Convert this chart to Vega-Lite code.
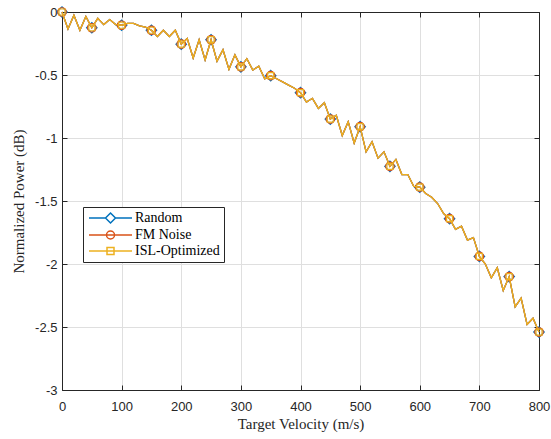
{
  "$schema": "https://vega.github.io/schema/vega-lite/v6.json",
  "width": 477,
  "height": 378,
  "autosize": {"type": "none"},
  "padding": {"left": 62, "top": 12, "right": 12, "bottom": 49},
  "background": "white",
  "config": {
    "view": {"stroke": null},
    "axis": {
      "domainColor": "#262626",
      "domainWidth": 1,
      "tickColor": "#262626",
      "tickSize": -5,
      "labelFont": "Liberation Sans",
      "labelFontSize": 13,
      "labelColor": "#262626",
      "titleFont": "Liberation Serif",
      "titleFontSize": 15,
      "titleFontWeight": "normal",
      "titleColor": "#262626",
      "gridColor": "#dfdfdf",
      "gridWidth": 1
    }
  },
  "data": {
    "values": [
      {"v": 0, "r": 0, "f": 0, "i": 0},
      {"v": 10, "r": -0.135, "f": -0.135, "i": -0.135},
      {"v": 20, "r": -0.025, "f": -0.025, "i": -0.025},
      {"v": 30, "r": -0.145, "f": -0.145, "i": -0.145},
      {"v": 40, "r": -0.035, "f": -0.035, "i": -0.035},
      {"v": 50, "r": -0.125, "f": -0.125, "i": -0.125},
      {"v": 60, "r": -0.05, "f": -0.05, "i": -0.05},
      {"v": 70, "r": -0.1, "f": -0.1, "i": -0.1},
      {"v": 80, "r": -0.06, "f": -0.06, "i": -0.06},
      {"v": 90, "r": -0.1, "f": -0.1, "i": -0.1},
      {"v": 100, "r": -0.105, "f": -0.105, "i": -0.105},
      {"v": 110, "r": -0.09, "f": -0.09, "i": -0.09},
      {"v": 120, "r": -0.09, "f": -0.09, "i": -0.09},
      {"v": 130, "r": -0.11, "f": -0.11, "i": -0.11},
      {"v": 140, "r": -0.12, "f": -0.12, "i": -0.12},
      {"v": 150, "r": -0.145, "f": -0.145, "i": -0.145},
      {"v": 160, "r": -0.195, "f": -0.195, "i": -0.195},
      {"v": 170, "r": -0.145, "f": -0.145, "i": -0.145},
      {"v": 180, "r": -0.195, "f": -0.195, "i": -0.195},
      {"v": 190, "r": -0.145, "f": -0.145, "i": -0.145},
      {"v": 200, "r": -0.255, "f": -0.255, "i": -0.255},
      {"v": 210, "r": -0.21, "f": -0.21, "i": -0.21},
      {"v": 220, "r": -0.365, "f": -0.365, "i": -0.365},
      {"v": 230, "r": -0.22, "f": -0.22, "i": -0.22},
      {"v": 240, "r": -0.38, "f": -0.38, "i": -0.38},
      {"v": 250, "r": -0.22, "f": -0.22, "i": -0.22},
      {"v": 260, "r": -0.39, "f": -0.39, "i": -0.39},
      {"v": 270, "r": -0.3, "f": -0.3, "i": -0.3},
      {"v": 280, "r": -0.455, "f": -0.455, "i": -0.455},
      {"v": 290, "r": -0.34, "f": -0.34, "i": -0.34},
      {"v": 300, "r": -0.435, "f": -0.435, "i": -0.435},
      {"v": 310, "r": -0.37, "f": -0.37, "i": -0.37},
      {"v": 320, "r": -0.46, "f": -0.46, "i": -0.46},
      {"v": 330, "r": -0.43, "f": -0.43, "i": -0.43},
      {"v": 340, "r": -0.53, "f": -0.53, "i": -0.53},
      {"v": 350, "r": -0.505, "f": -0.505, "i": -0.505},
      {"v": 360, "r": -0.53, "f": -0.53, "i": -0.53},
      {"v": 370, "r": -0.555, "f": -0.555, "i": -0.555},
      {"v": 380, "r": -0.58, "f": -0.58, "i": -0.58},
      {"v": 390, "r": -0.605, "f": -0.605, "i": -0.605},
      {"v": 400, "r": -0.64, "f": -0.64, "i": -0.64},
      {"v": 410, "r": -0.715, "f": -0.715, "i": -0.715},
      {"v": 420, "r": -0.685, "f": -0.685, "i": -0.685},
      {"v": 430, "r": -0.765, "f": -0.765, "i": -0.765},
      {"v": 440, "r": -0.72, "f": -0.72, "i": -0.72},
      {"v": 450, "r": -0.85, "f": -0.85, "i": -0.85},
      {"v": 460, "r": -0.82, "f": -0.82, "i": -0.82},
      {"v": 470, "r": -0.98, "f": -0.98, "i": -0.98},
      {"v": 480, "r": -0.87, "f": -0.87, "i": -0.87},
      {"v": 490, "r": -1.04, "f": -1.04, "i": -1.04},
      {"v": 500, "r": -0.91, "f": -0.91, "i": -0.91},
      {"v": 510, "r": -1.11, "f": -1.11, "i": -1.11},
      {"v": 520, "r": -1.03, "f": -1.03, "i": -1.03},
      {"v": 530, "r": -1.16, "f": -1.16, "i": -1.16},
      {"v": 540, "r": -1.11, "f": -1.11, "i": -1.11},
      {"v": 550, "r": -1.225, "f": -1.225, "i": -1.225},
      {"v": 560, "r": -1.17, "f": -1.17, "i": -1.17},
      {"v": 570, "r": -1.29, "f": -1.29, "i": -1.29},
      {"v": 580, "r": -1.29, "f": -1.29, "i": -1.29},
      {"v": 590, "r": -1.385, "f": -1.385, "i": -1.385},
      {"v": 600, "r": -1.39, "f": -1.39, "i": -1.39},
      {"v": 610, "r": -1.44, "f": -1.44, "i": -1.44},
      {"v": 620, "r": -1.47, "f": -1.47, "i": -1.47},
      {"v": 630, "r": -1.52, "f": -1.52, "i": -1.52},
      {"v": 640, "r": -1.6, "f": -1.6, "i": -1.6},
      {"v": 650, "r": -1.64, "f": -1.64, "i": -1.64},
      {"v": 660, "r": -1.725, "f": -1.725, "i": -1.725},
      {"v": 670, "r": -1.7, "f": -1.7, "i": -1.7},
      {"v": 680, "r": -1.81, "f": -1.81, "i": -1.81},
      {"v": 690, "r": -1.79, "f": -1.79, "i": -1.79},
      {"v": 700, "r": -1.94, "f": -1.94, "i": -1.94},
      {"v": 710, "r": -2.0, "f": -2.0, "i": -2.0},
      {"v": 720, "r": -2.11, "f": -2.11, "i": -2.11},
      {"v": 730, "r": -2.03, "f": -2.03, "i": -2.03},
      {"v": 740, "r": -2.21, "f": -2.21, "i": -2.21},
      {"v": 750, "r": -2.1, "f": -2.1, "i": -2.1},
      {"v": 760, "r": -2.34, "f": -2.34, "i": -2.34},
      {"v": 770, "r": -2.27, "f": -2.27, "i": -2.27},
      {"v": 780, "r": -2.48, "f": -2.48, "i": -2.48},
      {"v": 790, "r": -2.43, "f": -2.43, "i": -2.43},
      {"v": 800, "r": -2.54, "f": -2.54, "i": -2.54}
    ]
  },
  "layer": [
    {
      "mark": {"type": "line", "color": "#0072BD", "strokeWidth": 1.3},
      "encoding": {
        "x": {"field": "v", "type": "quantitative", "scale": {"domain": [0, 800], "nice": false, "zero": false},
          "axis": {"orient": "bottom", "values": [0, 100, 200, 300, 400, 500, 600, 700, 800], "grid": true, "labelPadding": 15, "title": "Target Velocity (m/s)", "titlePadding": 3, "labelFlush": false}},
        "y": {"field": "r", "type": "quantitative", "scale": {"domain": [-3, 0], "nice": false, "zero": false},
          "axis": {"orient": "left", "values": [0, -0.5, -1, -1.5, -2, -2.5, -3], "grid": true, "labelPadding": 10, "labelExpr": "toString(datum.value)", "title": "Normalized Power (dB)", "titlePadding": 8, "labelFlush": false}}
      }
    },
    {
      "transform": [{"filter": "datum.v % 50 == 0"}],
      "mark": {"type": "point", "shape": "diamond", "filled": false, "opacity": 1, "size": 110, "strokeWidth": 1.2, "color": "#0072BD"},
      "encoding": {
        "x": {"field": "v", "type": "quantitative", "scale": {"domain": [0, 800], "nice": false, "zero": false}, "axis": null},
        "y": {"field": "r", "type": "quantitative", "scale": {"domain": [-3, 0], "nice": false, "zero": false}, "axis": null}
      }
    },
    {
      "mark": {"type": "line", "color": "#D95319", "strokeWidth": 1.3},
      "encoding": {
        "x": {"field": "v", "type": "quantitative", "scale": {"domain": [0, 800], "nice": false, "zero": false}, "axis": null},
        "y": {"field": "f", "type": "quantitative", "scale": {"domain": [-3, 0], "nice": false, "zero": false}, "axis": null}
      }
    },
    {
      "transform": [{"filter": "datum.v % 50 == 0"}],
      "mark": {"type": "point", "shape": "circle", "filled": false, "opacity": 1, "size": 72, "strokeWidth": 1.2, "color": "#D95319"},
      "encoding": {
        "x": {"field": "v", "type": "quantitative", "scale": {"domain": [0, 800], "nice": false, "zero": false}, "axis": null},
        "y": {"field": "f", "type": "quantitative", "scale": {"domain": [-3, 0], "nice": false, "zero": false}, "axis": null}
      }
    },
    {
      "mark": {"type": "line", "color": "#EDB120", "strokeWidth": 1.3},
      "encoding": {
        "x": {"field": "v", "type": "quantitative", "scale": {"domain": [0, 800], "nice": false, "zero": false}, "axis": null},
        "y": {"field": "i", "type": "quantitative", "scale": {"domain": [-3, 0], "nice": false, "zero": false}, "axis": null}
      }
    },
    {
      "transform": [{"filter": "datum.v % 50 == 0"}],
      "mark": {"type": "point", "shape": "square", "filled": false, "opacity": 1, "size": 36, "strokeWidth": 1.2, "color": "#EDB120"},
      "encoding": {
        "x": {"field": "v", "type": "quantitative", "scale": {"domain": [0, 800], "nice": false, "zero": false}, "axis": null},
        "y": {"field": "i", "type": "quantitative", "scale": {"domain": [-3, 0], "nice": false, "zero": false}, "axis": null}
      }
    },
    {
      "data": {"values": [{"series": "Random"}, {"series": "FM Noise"}, {"series": "ISL-Optimized"}]},
      "transform": [{"filter": "false"}],
      "mark": {"type": "point", "filled": false, "opacity": 1, "strokeWidth": 1.5},
      "encoding": {
        "x": {"field": "v", "type": "quantitative", "scale": {"domain": [0, 800], "nice": false, "zero": false},
          "axis": {"orient": "top", "values": [0, 100, 200, 300, 400, 500, 600, 700, 800], "labels": false, "grid": false, "title": null}},
        "y": {"field": "p", "type": "quantitative", "scale": {"domain": [-3, 0], "nice": false, "zero": false},
          "axis": {"orient": "right", "values": [0, -0.5, -1, -1.5, -2, -2.5, -3], "labels": false, "grid": false, "title": null}},
        "color": {"field": "series", "type": "nominal",
          "scale": {"domain": ["Random", "FM Noise", "ISL-Optimized"], "range": ["#0072BD", "#D95319", "#EDB120"]},
          "legend": {"orient": "none", "legendX": 21, "legendY": 195, "title": null, "labelFont": "Liberation Serif", "labelFontSize": 14, "labelColor": "#000000", "symbolSize": 100, "symbolStrokeWidth": 1.5, "symbolOpacity": 1, "labelOffset": 34, "rowPadding": 2, "padding": 4, "fillColor": "white", "strokeColor": "#262626"}},
        "shape": {"field": "series", "type": "nominal",
          "scale": {"domain": ["Random", "FM Noise", "ISL-Optimized"], "range": [
            "M-1,0H2.3M4.3,0H7.6M3.3,-1L4.3,0L3.3,1L2.3,0Z",
            "M-1,0H7.6M4.1,0A0.8,0.8,0,1,1,2.5,0A0.8,0.8,0,1,1,4.1,0Z",
            "M-1,0H7.6M2.6,-0.7H4V0.7H2.6Z"]},
          "legend": {"orient": "none", "legendX": 21, "legendY": 195, "title": null, "labelFont": "Liberation Serif", "labelFontSize": 14, "labelColor": "#000000", "symbolSize": 100, "symbolStrokeWidth": 1.5, "symbolOpacity": 1, "labelOffset": 34, "rowPadding": 2, "padding": 4, "fillColor": "white", "strokeColor": "#262626"}}
      }
    }
  ],
  "resolve": {"axis": {"x": "independent", "y": "independent"}}
}
